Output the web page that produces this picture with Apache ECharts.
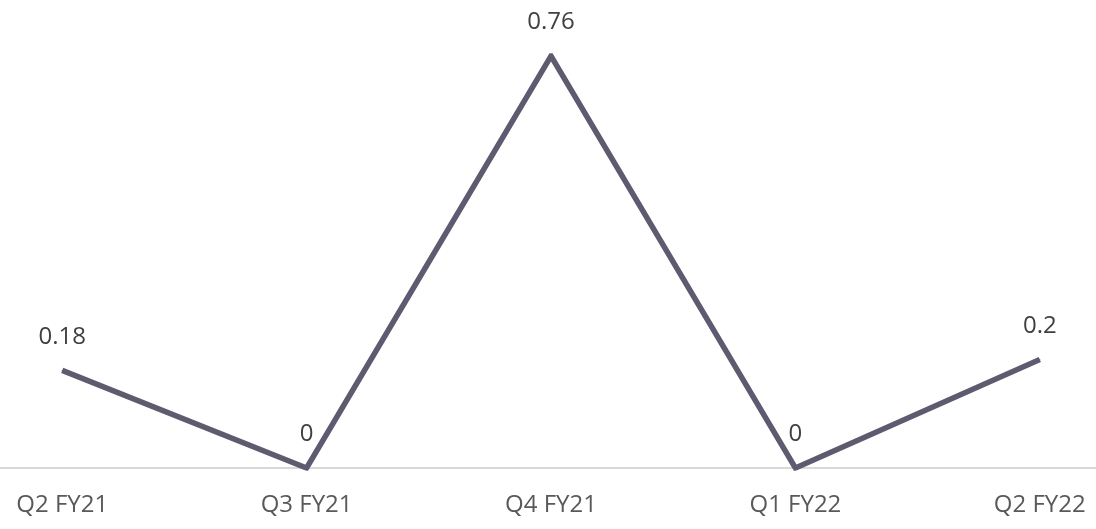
<!DOCTYPE html>
<html>
<head>
    <meta charset="utf-8">
    <title>ECharts</title>
    <script src="https://cdn.jsdelivr.net/npm/echarts@6/dist/echarts.min.js"></script>
    <style>
        html, body { margin: 0; padding: 0; background: #fff; }
        #main { width: 1096px; height: 529px; }
    </style>
</head>
<body>
    <div id="main"></div>
</body>
<script type="text/javascript">
    var quarters = ['Q2 FY21', 'Q3 FY21', 'Q4 FY21', 'Q1 FY22', 'Q2 FY22'];
    var values = [0.18, 0, 0.76, 0, 0.2];

    var chart = echarts.init(document.getElementById('main'));
    chart.setOption({
        backgroundColor: '#fff',
        animation: false,
        grid: {
            left: -60,
            right: -66,
            top: 56,
            bottom: 61,
            outerBoundsMode: 'none',
            containLabel: false
        },
        xAxis: {
            type: 'category',
            data: quarters,
            boundaryGap: true,
            axisLine: { lineStyle: { color: '#d9d9d9', width: 2 } },
            axisTick: { show: false },
            axisLabel: {
                color: '#595959',
                fontSize: 24,
                fontFamily: 'Open Sans',
                margin: 25
            }
        },
        yAxis: {
            type: 'value',
            min: 0,
            max: 0.76,
            show: false,
            splitLine: { show: false }
        },
        series: [{
            type: 'line',
            data: values,
            symbol: 'circle',
            symbolSize: 1,
            showSymbol: true,
            itemStyle: { color: '#5e5b70' },
            lineStyle: {
                color: '#5e5b70',
                width: 5.5,
                join: 'miter'
            },
            label: {
                show: true,
                position: 'top',
                distance: 21,
                color: '#404040',
                fontSize: 24,
                fontFamily: 'Open Sans'
            }
        }]
    });
</script>
</html>
